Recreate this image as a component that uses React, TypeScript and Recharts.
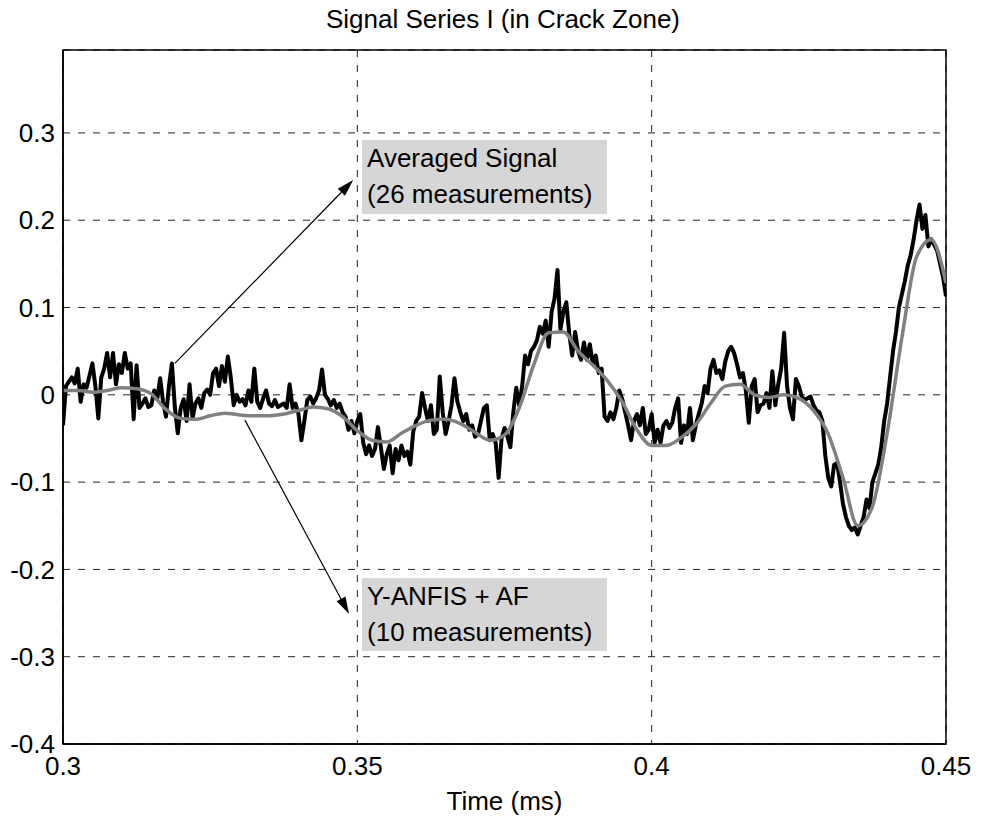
import { LineChart, Line, XAxis, YAxis, CartesianGrid, ReferenceArea, ReferenceLine } from "recharts"

const FONT = "'Liberation Sans', Arial, Helvetica, sans-serif"

const T0 = 0.3
const AVG_STEP = 0.0005
const ANFIS_STEP = 0.0025

// averaged signal, 26 measurements (black, noisy)
const averagedSignal = [
  -0.035, 0.010, 0.015, 0.020, 0.013, 0.030, -0.008, 0.012, 0.008, 0.022,
  0.036, 0.010, -0.027, 0.020, 0.030, 0.048, 0.020, 0.048, 0.012, 0.035,
  0.025, 0.048, 0.030, 0.036, -0.028, 0.034, -0.015, -0.010, -0.004, -0.014,
  -0.012, 0.005, -0.005, 0.019, -0.008, -0.025, 0.010, 0.036, -0.014, -0.044,
  -0.015, -0.005, -0.030, 0.012, -0.027, -0.010, -0.004, -0.015, 0.002, 0.006,
  0.000, 0.025, 0.030, 0.010, 0.033, 0.015, 0.044, 0.020, -0.012, 0.000,
  -0.008, -0.005, -0.012, 0.005, -0.008, 0.030, -0.008, -0.015, -0.004, 0.005,
  -0.010, -0.013, -0.006, -0.014, -0.012, -0.010, -0.015, 0.012, -0.015, -0.010,
  -0.022, -0.052, -0.030, -0.006, -0.002, -0.010, -0.004, 0.005, 0.029, 0.000,
  -0.005, -0.012, -0.006, -0.015, -0.010, -0.020, -0.025, -0.040, -0.030, -0.044,
  -0.030, -0.022, -0.055, -0.068, -0.058, -0.070, -0.062, -0.037, -0.060, -0.085,
  -0.068, -0.058, -0.090, -0.062, -0.075, -0.058, -0.070, -0.065, -0.080, -0.042,
  -0.030, -0.025, 0.002, -0.015, -0.030, -0.012, -0.045, -0.040, 0.021, -0.020,
  -0.045, -0.030, -0.012, 0.019, -0.008, -0.020, -0.030, -0.022, -0.040, -0.035,
  -0.048, -0.045, -0.030, -0.015, -0.012, -0.052, -0.045, -0.055, -0.095, -0.050,
  -0.038, -0.048, -0.060, -0.020, 0.008, -0.012, 0.010, 0.045, 0.035, 0.050,
  0.055, 0.062, 0.078, 0.070, 0.085, 0.055, 0.095, 0.110, 0.143, 0.075,
  0.095, 0.106, 0.070, 0.045, 0.072, 0.050, 0.040, 0.060, 0.040, 0.058,
  0.035, 0.045, 0.025, 0.030, -0.025, -0.030, -0.020, -0.028, -0.015, 0.005,
  -0.005, -0.020, -0.035, -0.052, -0.030, -0.022, -0.035, -0.015, -0.045, -0.040,
  -0.022, -0.055, -0.040, -0.055, -0.035, -0.030, -0.038, -0.032, -0.015, -0.004,
  -0.055, -0.035, -0.045, -0.015, -0.052, -0.035, -0.022, -0.010, 0.010, 0.002,
  0.030, 0.040, 0.025, 0.028, 0.018, 0.038, 0.050, 0.055, 0.048, 0.035,
  0.020, 0.025, 0.005, -0.032, 0.010, 0.018, -0.020, -0.012, -0.010, 0.002,
  -0.015, 0.027, -0.012, 0.012, 0.030, 0.071, 0.010, -0.015, -0.028, 0.018,
  0.010, -0.002, -0.006, -0.004, -0.002, -0.012, -0.018, -0.020, -0.030, -0.070,
  -0.095, -0.105, -0.080, -0.078, -0.100, -0.125, -0.140, -0.150, -0.155, -0.152,
  -0.160, -0.150, -0.140, -0.120, -0.130, -0.100, -0.090, -0.080, -0.060, -0.030,
  -0.010, 0.020, 0.050, 0.072, 0.100, 0.115, 0.130, 0.148, 0.160, 0.178,
  0.200, 0.218, 0.190, 0.206, 0.170, 0.178, 0.172, 0.165, 0.150, 0.135,
  0.113,
]

// Y-ANFIS + AF, 10 measurements (grey, smooth)
const anfisSignal = [
  0.005, 0.005, 0.003, 0.005, 0.008, 0.007, 0.001, -0.017, -0.027, -0.028,
  -0.024, -0.021, -0.023, -0.024, -0.024, -0.022, -0.018, -0.014, -0.016, -0.025,
  -0.041, -0.052, -0.054, -0.044, -0.035, -0.029, -0.028, -0.033, -0.043, -0.052,
  -0.046, -0.015, 0.035, 0.071, 0.072, 0.050, 0.034, 0.016, -0.008, -0.040,
  -0.058, -0.058, -0.049, -0.034, -0.010, 0.010, 0.012, 0.000, -0.003, 0.000,
  -0.004, -0.018, -0.045, -0.095, -0.150, -0.128, -0.044, 0.065, 0.158, 0.178,
  0.128,
]

const xTicks = [0.3, 0.35, 0.4, 0.45]
const yTicks = [-0.4, -0.3, -0.2, -0.1, 0, 0.1, 0.2, 0.3]

const averagedLabel = ["Averaged Signal", "(26 measurements)"]
const anfisLabel = ["Y-ANFIS + AF", "(10 measurements)"]

const avgData = averagedSignal.map((v, i) => ({ t: +(T0 + i * AVG_STEP).toFixed(4), v }))
const anfisData = anfisSignal.map((v, i) => ({ t: +(T0 + i * ANFIS_STEP).toFixed(4), v }))

const labelBox = (lines: string[]) => (props: any) => {
  const { x, y, width, height } = props
  return (
    <g>
      <rect x={x} y={y} width={width} height={height} fill="#d6d6d6" />
      {lines.map((line, i) => (
        <text key={i} x={x + 5} y={y + 27 + i * 36} fontSize={26} fontFamily={FONT} fill="#000">
          {line}
        </text>
      ))}
    </g>
  )
}

const arrow = (props: any) => {
  const { x1, y1, x2, y2 } = props
  const a = Math.atan2(y2 - y1, x2 - x1)
  const c = Math.cos(a)
  const s = Math.sin(a)
  const bx = x2 - 17 * c
  const by = y2 - 17 * s
  const pts = `${x2},${y2} ${bx - 5 * s},${by + 5 * c} ${bx + 5 * s},${by - 5 * c}`
  return (
    <g>
      <line x1={x1} y1={y1} x2={bx} y2={by} stroke="#000" strokeWidth={1.2} />
      <polygon points={pts} fill="#000" />
    </g>
  )
}

export default function App() {
  return (
    <div style={{ position: "absolute", left: 0, top: 0, width: 981, height: 818, background: "#fff" }}>
      <LineChart width={981} height={818} data={avgData} margin={{ top: 50, right: 35, bottom: 0, left: 8 }}>
        <CartesianGrid stroke="#222" strokeDasharray="7 8" />
        <XAxis
          dataKey="t"
          type="number"
          domain={[0.3, 0.45]}
          ticks={xTicks}
          interval={0}
          allowDataOverflow
          height={74}
          tickSize={0}
          tickMargin={13}
          tickLine={false}
          axisLine={{ stroke: "#000", strokeWidth: 1.5 }}
          tick={{ fontSize: 26, fill: "#000", fontFamily: FONT }}
          tickFormatter={(v: number) => String(v)}
          label={{ value: "Time (ms)", position: "insideBottom", offset: 8, fontSize: 26, fill: "#000", fontFamily: FONT }}
        />
        <YAxis
          type="number"
          domain={[-0.4, 0.395]}
          ticks={yTicks}
          interval={0}
          allowDataOverflow
          width={55}
          tickSize={0}
          tickMargin={8}
          tickLine={false}
          axisLine={{ stroke: "#000", strokeWidth: 1.5 }}
          tick={{ fontSize: 26, fill: "#000", fontFamily: FONT }}
          tickFormatter={(v: number) => String(v)}
        />
        <ReferenceArea x1={0.3} x2={0.45} y1={-0.4} y2={0.395} fill="none" stroke="#000" strokeWidth={1.5} />
        <Line
          data={avgData}
          dataKey="v"
          type="linear"
          stroke="#000"
          strokeWidth={4}
          strokeLinejoin="round"
          dot={false}
          activeDot={false}
          isAnimationActive={false}
        />
        <Line
          data={anfisData}
          dataKey="v"
          type="monotone"
          stroke="#808080"
          strokeWidth={3.5}
          dot={false}
          activeDot={false}
          isAnimationActive={false}
        />
        <ReferenceArea x1={0.3508} x2={0.3924} y1={0.207} y2={0.292} shape={labelBox(averagedLabel)} />
        <ReferenceArea x1={0.3508} x2={0.3924} y1={-0.2935} y2={-0.21} shape={labelBox(anfisLabel)} />
        <ReferenceLine segment={[{ x: 0.319, y: 0.036 }, { x: 0.3493, y: 0.246 }]} shape={arrow} />
        <ReferenceLine segment={[{ x: 0.3309, y: -0.029 }, { x: 0.3486, y: -0.251 }]} shape={arrow} />
      </LineChart>
      <svg width={981} height={50} style={{ position: "absolute", left: 0, top: 0, pointerEvents: "none" }}>
        <text x={503} y={28} textAnchor="middle" fontSize={26} fontFamily={FONT} fill="#000">
          Signal Series I (in Crack Zone)
        </text>
      </svg>
    </div>
  )
}
